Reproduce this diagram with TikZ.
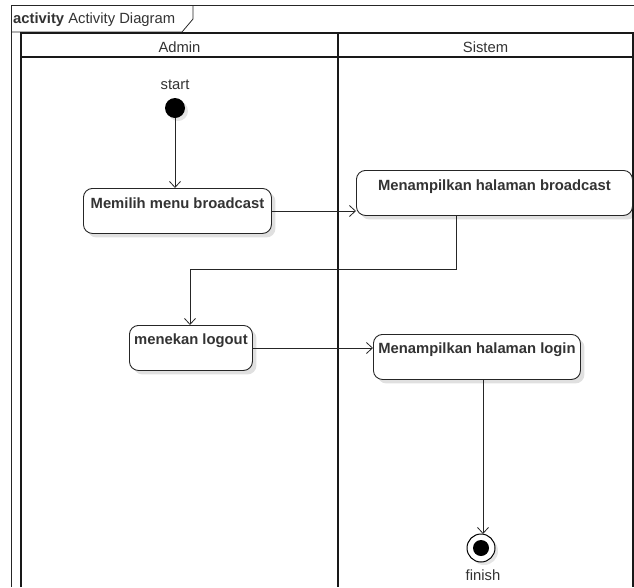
\documentclass[tikz,border=0pt]{standalone}
\usepackage{fontspec}
\setmainfont{Liberation Sans}
\usetikzlibrary{arrows.meta,shadows}
\definecolor{txt}{HTML}{333333}
\begin{document}
\begin{tikzpicture}[x=1pt,y=-1pt,
  frameline/.style={draw=black!85, line width=0.8pt},
  lane/.style={draw=black!90, line width=2pt},
  actbox/.style={draw=black!85, line width=0.9pt, rounded corners=9pt, fill=white, anchor=north west, inner sep=0pt,
     drop shadow={shadow xshift=4pt, shadow yshift=-4pt, opacity=0.12, fill=black}},
  acttext/.style={font=\fontsize{14.8}{17}\selectfont\bfseries, text=txt, anchor=base, inner sep=0pt},
  lanetext/.style={font=\fontsize{14.8}{17}\selectfont, text=txt, anchor=base, inner sep=0pt},
  flow/.style={draw=black!85, line width=0.8pt, -{Straight Barb[length=6pt,width=11pt]}}
]
\useasboundingbox (0,0) rectangle (634,587);
% outer frame
\draw[frameline] (634,5) -- (11,5) -- (11,587);
\draw[frameline] (11,32) -- (182,32) -- (193,19) -- (193,5);
\node[anchor=base west, font=\fontsize{14.8}{17}\selectfont, text=txt, inner sep=0pt] (title) at (13,23) {\textbf{activity} Activity Diagram};
% swimlanes
\draw[lane] (21,587) -- (21,33) -- (633,33) -- (633,587);
\draw[lane] (21,57) -- (633,57);
\draw[lane] (338,33) -- (338,587);
\node[lanetext] (admin) at (179.5,52) {Admin};
\node[lanetext] (sistem) at (485.5,52) {Sistem};
% start
\node[circle, fill=black, minimum size=20pt, inner sep=0pt,
  drop shadow={shadow xshift=3pt, shadow yshift=-3pt, opacity=0.1, fill=black}] (start) at (175,108) {};
\node[lanetext] (startlbl) at (175,89.5) {start};
% activities
\node[actbox, minimum width=188pt, minimum height=45pt] (memilih) at (83,188) {};
\node[acttext] at ([yshift=-20pt]memilih.north) {Memilih menu broadcast};
\node[actbox, minimum width=276pt, minimum height=45pt] (tampilb) at (356,170) {};
\node[acttext] at ([yshift=-20pt]tampilb.north) {Menampilkan halaman broadcast};
\node[actbox, minimum width=123pt, minimum height=45pt] (menekan) at (129,325) {};
\node[acttext] at ([yshift=-19.5pt]menekan.north) {menekan logout};
\node[actbox, minimum width=207pt, minimum height=45pt] (login) at (373,334) {};
\node[acttext] at ([yshift=-19.5pt]login.north) {Menampilkan halaman login};
% finish
\node[circle, draw=black, line width=1pt, fill=white, minimum size=28pt, inner sep=0pt,
  drop shadow={shadow xshift=3pt, shadow yshift=-3pt, opacity=0.1, fill=black}] (finish) at (481,548) {};
\node[circle, fill=black, minimum size=16pt, inner sep=0pt] (finishdot) at (finish.center) {};
\node[lanetext] (finlbl) at (483,580) {finish};
% flows
\draw[flow] (start) -- (start |- memilih.north);
\draw[flow] (memilih.east |- 0,211) -- (tampilb.west |- 0,211);
\coordinate (c1) at (456,269);
\coordinate (c2) at (190,269);
\draw[flow] (tampilb.south -| c1) -- (c1) -- (c2) -- (c2 |- menekan.north);
\draw[flow] (menekan.east |- 0,348) -- (login.west |- 0,348);
\draw[flow] (login.south -| 483,0) -- (483,534);
\end{tikzpicture}
\end{document}
